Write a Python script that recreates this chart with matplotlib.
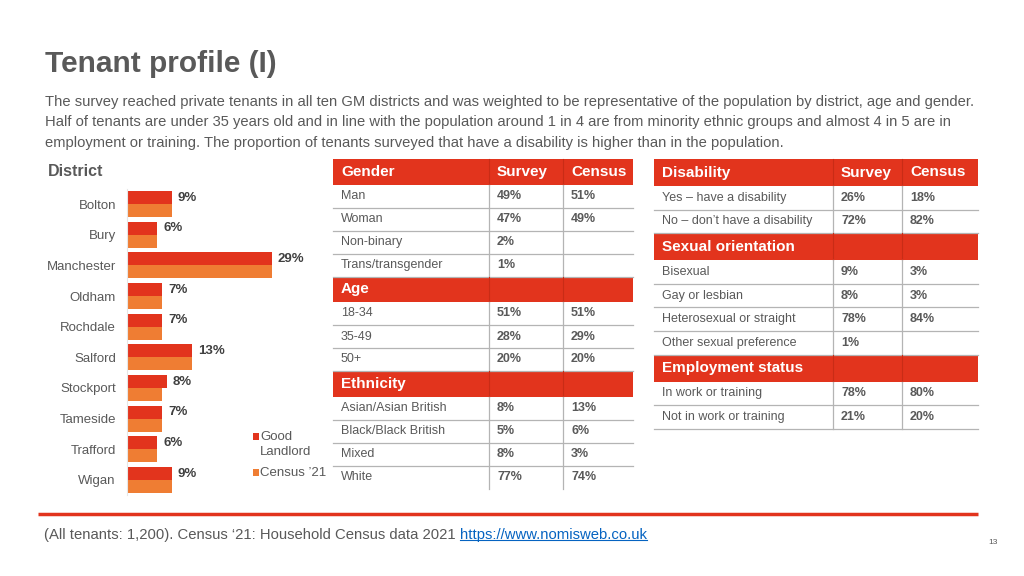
import matplotlib.pyplot as plt
from matplotlib.patches import Rectangle
import numpy as np

plt.rcParams['font.family'] = ['Liberation Sans', 'DejaVu Sans']

RED = '#e2341d'
ORANGE = '#ef7d33'
GREY = '#595959'
DARK = '#404040'
LINE = '#b4b4b4'

# district bar chart
districts = ['Bolton', 'Bury', 'Manchester', 'Oldham', 'Rochdale', 'Salford',
             'Stockport', 'Tameside', 'Trafford', 'Wigan']
good_landlord = [9, 6, 29, 7, 7, 13, 8, 7, 6, 9]
census_21 = [9, 6, 29, 7, 7, 13, 7, 7, 6, 9]

# left table
gender_labels = ['Man', 'Woman', 'Non-binary', 'Trans/transgender']
gender_survey = ['49%', '47%', '2%', '1%']
gender_census = ['51%', '49%', '', '']
age_labels = ['18-34', '35-49', '50+']
age_survey = ['51%', '28%', '20%']
age_census = ['51%', '29%', '20%']
eth_labels = ['Asian/Asian British', 'Black/Black British', 'Mixed', 'White']
eth_survey = ['8%', '5%', '8%', '77%']
eth_census = ['13%', '6%', '3%', '74%']

# right table
dis_labels = ['Yes \u2013 have a disability', 'No \u2013 don\u2019t have a disability']
dis_survey = ['26%', '72%']
dis_census = ['18%', '82%']
sex_labels = ['Bisexual', 'Gay or lesbian', 'Heterosexual or straight', 'Other sexual preference']
sex_survey = ['9%', '8%', '78%', '1%']
sex_census = ['3%', '3%', '84%', '']
emp_labels = ['In work or training', 'Not in work or training']
emp_survey = ['78%', '21%']
emp_census = ['80%', '20%']

title = 'Tenant profile (I)'
intro = ('The survey reached private tenants in all ten GM districts and was weighted to be representative of the population by district, age and gender.\n'
         'Half of tenants are under 35 years old and in line with the population around 1 in 4 are from minority ethnic groups and almost 4 in 5 are in\n'
         'employment or training. The proportion of tenants surveyed that have a disability is higher than in the population.')
footer = '(All tenants: 1,200). Census \u201821: Household Census data 2021'
link = 'https://www.nomisweb.co.uk'

W, H = 1024, 576
fig = plt.figure(figsize=(W / 100, H / 100), dpi=100)
fig.patch.set_facecolor('white')

# page-level axes in pixel coordinates
ax0 = fig.add_axes([0, 0, 1, 1])
ax0.set_xlim(0, W)
ax0.set_ylim(H, 0)
ax0.axis('off')

ax0.text(45, 64, title, fontsize=21.5, fontweight='bold', color=GREY, va='center')
ax0.text(45, 95, intro, fontsize=10.6, color=GREY, va='top', linespacing=1.58)
ax0.text(48, 172, 'District', fontsize=11.5, fontweight='bold', color=GREY, va='center')


def draw_table(sections, cols, y, head_h, row_h, bottom_line):
    for k, (name, labels, survey, census) in enumerate(sections):
        ax0.add_patch(Rectangle((cols[0], y), cols[3] - cols[0], head_h, color=RED, lw=0))
        for c in cols[1:3]:
            ax0.plot([c, c], [y, y + head_h], color='#c92c16', lw=0.8)
        ax0.text(cols[0] + 8, y + head_h / 2, name, color='white', fontsize=11,
                 fontweight='bold', va='center')
        if k == 0:
            ax0.text(cols[1] + 8, y + head_h / 2, 'Survey', color='white', fontsize=11,
                     fontweight='bold', va='center')
            ax0.text(cols[2] + 8, y + head_h / 2, 'Census', color='white', fontsize=11,
                     fontweight='bold', va='center')
        y += head_h
        y_start = y
        for i, (lab, s, c) in enumerate(zip(labels, survey, census)):
            yc = y + row_h / 2
            ax0.text(cols[0] + 8, yc, lab, color=GREY, fontsize=9, va='center')
            ax0.text(cols[1] + 8, yc, s, color=GREY, fontsize=9, fontweight='bold', va='center')
            ax0.text(cols[2] + 8, yc, c, color=GREY, fontsize=9, fontweight='bold', va='center')
            y += row_h
            last = (k == len(sections) - 1) and (i == len(labels) - 1)
            if not last or bottom_line:
                ax0.plot([cols[0], cols[3]], [y, y], color=LINE, lw=0.9)
        for c in cols[1:3]:
            ax0.plot([c, c], [y_start, y], color=LINE, lw=0.9)


draw_table([('Gender', gender_labels, gender_survey, gender_census),
            ('Age', age_labels, age_survey, age_census),
            ('Ethnicity', eth_labels, eth_survey, eth_census)],
           [333, 489, 563, 633], 159, 25.5, 23, False)

draw_table([('Disability', dis_labels, dis_survey, dis_census),
            ('Sexual orientation', sex_labels, sex_survey, sex_census),
            ('Employment status', emp_labels, emp_survey, emp_census)],
           [654, 833, 902, 978], 159, 27, 23.6, True)

# bar chart
top_px, bot_px = 188.7, 495.3
ax = fig.add_axes([127 / W, 1 - bot_px / H, 200 / W, (bot_px - top_px) / H])
ax.patch.set_alpha(0)
y = np.arange(len(districts))
bh = 0.42
ax.barh(y - bh / 2, good_landlord, height=bh, color=RED)
ax.barh(y + bh / 2, census_21, height=bh, color=ORANGE)
for yi, v in zip(y, good_landlord):
    ax.text(v + 1.2, yi - bh / 2, f'{v}%', fontsize=9.5, fontweight='bold',
            color=DARK, va='center')
ax.set_xlim(0, 40)
ax.set_ylim(len(districts) - 0.5, -0.5)
ax.set_yticks(y)
ax.set_yticklabels(districts, fontsize=9.5, color=GREY)
ax.tick_params(axis='y', length=0, pad=8)
ax.set_xticks([])
for s in ['top', 'right', 'bottom']:
    ax.spines[s].set_visible(False)
ax.spines['left'].set_color('#e6e6e6')
ax.spines['left'].set_linewidth(0.8)

# legend
ax0.add_patch(Rectangle((253, 433), 6, 7, color=RED, lw=0))
ax0.add_patch(Rectangle((253, 469), 6, 7, color=ORANGE, lw=0))
ax0.text(260, 437, 'Good', fontsize=9.5, color=GREY, va='center')
ax0.text(260, 452, 'Landlord', fontsize=9.5, color=GREY, va='center')
ax0.text(260, 473, 'Census \u201921', fontsize=9.5, color=GREY, va='center')

# footer
ax0.plot([38, 978], [514, 514], color=RED, lw=2.5, solid_capstyle='butt')
t1 = ax0.text(44, 535, footer, fontsize=10.7, color=GREY, va='center')
fig.canvas.draw()
bb = t1.get_window_extent(fig.canvas.get_renderer())
x_link = bb.x1 + 4
t2 = ax0.text(x_link, 535, link, fontsize=10.7, color='#0563c1', va='center')
fig.canvas.draw()
bb2 = t2.get_window_extent(fig.canvas.get_renderer())
ax0.plot([bb2.x0, bb2.x1], [H - bb2.y0 - 2, H - bb2.y0 - 2], color='#0563c1', lw=0.8)
ax0.text(993, 543, '13', fontsize=6, color=GREY, va='center', ha='center')

fig.savefig('out.png', dpi=100)
